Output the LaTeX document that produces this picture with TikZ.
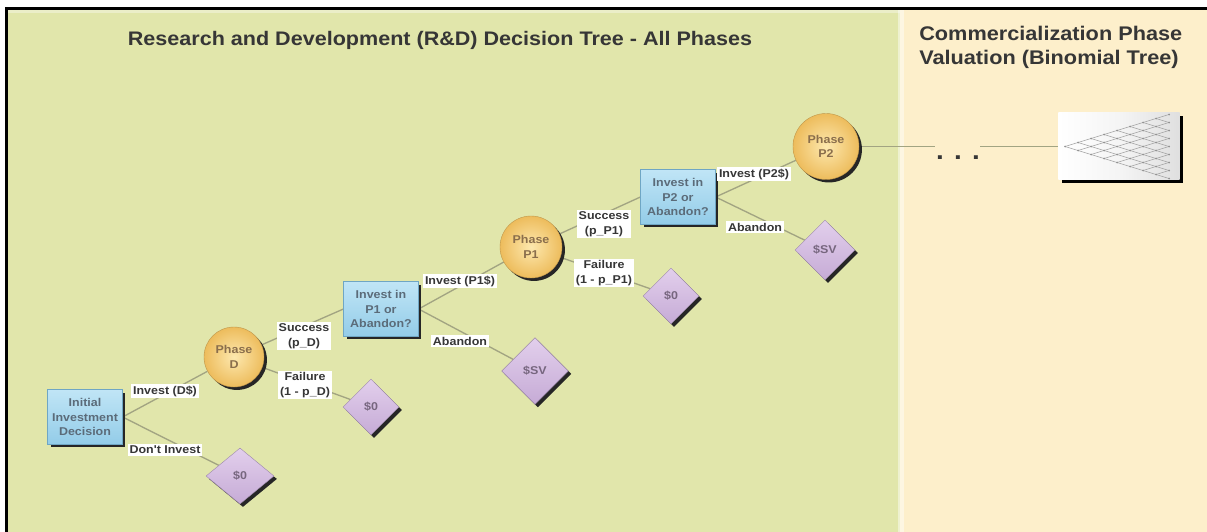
\documentclass[tikz,border=0pt]{standalone}
\usepackage{fontspec}
\setmainfont{Liberation Sans}
\newfontfamily\lbl{Liberation Sans}[FakeStretch=1.1]
\usetikzlibrary{shapes.geometric,shadows}
\definecolor{bgG}{HTML}{E1E6AB}
\definecolor{bgC}{HTML}{FDEFCB}
\definecolor{lineC}{HTML}{A2A482}
\definecolor{boxTop}{HTML}{C0E5F6}
\definecolor{boxBot}{HTML}{93CCE8}
\definecolor{boxDraw}{HTML}{6FA6C4}
\definecolor{circIn}{HTML}{FDE8AE}
\definecolor{circOut}{HTML}{EDBC5C}
\definecolor{diaTop}{HTML}{E2CFEC}
\definecolor{diaBot}{HTML}{C6ABD6}
\definecolor{txtG}{HTML}{363636}
\definecolor{boxTxt}{HTML}{5B6B79}
\definecolor{circTxt}{HTML}{8A6E4C}
\definecolor{diaTxt}{HTML}{76667E}
\pgfdeclarelayer{bg}
\pgfdeclarelayer{bgbg}
\pgfsetlayers{bgbg,bg,main}
\tikzset{
  smallfont/.style={font=\lbl\bfseries\fontsize{8.5}{10.9}\selectfont},
  dshadow/.style={general shadow={fill=black!85, shadow xshift=2.2pt, shadow yshift=-2.2pt}},
  decbox/.style={rectangle, smallfont, align=center, text=boxTxt, top color=boxTop, bottom color=boxBot,
    draw=boxDraw, line width=0.4pt, minimum width=56pt, minimum height=41pt, inner sep=1pt, dshadow},
  chance/.style={circle, smallfont, align=center, text=circTxt, inner color=circIn, outer color=circOut,
    draw=circOut!80!black, line width=0.3pt, inner sep=0pt, dshadow},
  leaf/.style={diamond, smallfont, text=diaTxt, top color=diaTop, bottom color=diaBot,
    draw=diaBot!80!black, line width=0.3pt, inner sep=0pt, dshadow},
  lab/.style={smallfont, align=center, text=txtG, fill=white, inner sep=1.3pt},
  conn/.style={draw=lineC, line width=1pt},
  latt/.style={draw=gray!75, line width=0.4pt},
}
\begin{document}
\begin{tikzpicture}[x=0.75pt,y=-0.75pt]
\useasboundingbox (0,0) rectangle (1207,532);
\begin{pgfonlayer}{bgbg}
\fill[white] (0,0) rectangle (1207,532);
\fill[bgG] (6,9) rectangle (900,532);
\fill[bgC] (900,9) rectangle (1207,532);
\fill[white,opacity=0.45] (898,9) rectangle (904,532);
\fill[white,opacity=0.35] (7,10) rectangle (900,12.5);
\fill[black] (5,7.3) rectangle (1207,10);
\fill[black] (5,7.3) rectangle (7.5,532);
\end{pgfonlayer}

% titles
\node[anchor=base, font=\lbl\bfseries\fontsize{14.7}{18}\selectfont, text=txtG, inner sep=0] (title1) at (440,45.5)
  {Research and Development (R\&D) Decision Tree - All Phases};
\node[anchor=west, align=left, font=\lbl\bfseries\fontsize{14.8}{18.5}\selectfont, text=txtG, inner sep=0] (title2) at (919,47.5)
  {Commercialization Phase\\Valuation (Binomial Tree)};

% decision boxes
\node[decbox] (init) at (85,417) {Initial\\Investment\\Decision};
\node[decbox] (p1box) at (381,309) {Invest in\\P1 or\\Abandon?};
\node[decbox] (p2box) at (678,197) {Invest in\\P2 or\\Abandon?};

% chance nodes
\node[chance, minimum size=45pt] (phD) at (234,357) {Phase\\D};
\node[chance, minimum size=46.5pt] (phP1) at (531,247) {Phase\\P1};
\node[chance, minimum size=49.5pt] (phP2) at (826,146.5) {Phase\\P2};

% leaves
\node[leaf, minimum width=51pt, minimum height=42pt] (z1) at (240,476) {\$0};
\node[leaf, minimum width=42pt, minimum height=42pt] (z2) at (371,407) {\$0};
\node[leaf, minimum width=50pt, minimum height=50pt] (sv1) at (535,371) {\$SV};
\node[leaf, minimum width=42pt, minimum height=42pt] (z3) at (671,296) {\$0};
\node[leaf, minimum width=45pt, minimum height=45pt] (sv2) at (825,250) {\$SV};

% binomial box
\node[rectangle, minimum width=91pt, minimum height=50pt, inner sep=0,
  left color=white, right color=gray!25, middle color=white!92!gray,
  general shadow={fill=black, shadow xshift=2.8pt, shadow yshift=-2.8pt}] (binom) at (1119,146) {};
\coordinate (apex) at (1065,146.5);
\coordinate (gapL) at (935,146.5);
\coordinate (gapR) at (980,146.5);
\node[font=\lbl\bfseries\fontsize{19}{19}\selectfont, text=txtG, inner sep=0] (dots) at (958,158) {. . .};

\foreach \i in {0,...,7}{
  \foreach \j in {0,...,\i}{
    \pgfmathsetmacro\xa{1065+13*\i}
    \pgfmathsetmacro\ya{146.5+4*(2*\j-\i)}
    \pgfmathsetmacro\xb{1065+13*(\i+1)}
    \pgfmathsetmacro\yb{146.5+4*(2*\j-\i-1)}
    \pgfmathsetmacro\yc{146.5+4*(2*\j-\i+1)}
    \draw[latt] (\xa,\ya) -- (\xb,\yb);
    \draw[latt] (\xa,\ya) -- (\xb,\yc);
    \fill[gray!85] (\xa,\ya) circle (1);
  }}
\foreach \j in {0,...,8}{
  \fill[gray!85] (1169,{146.5+4*(2*\j-8)}) circle (1);
}

% connectors
\begin{pgfonlayer}{bg}
\draw[conn] (init.east) -- (phD);
\draw[conn] (init.east) -- (z1);
\draw[conn] (phD) -- (p1box.west);
\draw[conn] (phD) -- (z2);
\draw[conn] (p1box.east) -- (phP1);
\draw[conn] (p1box.east) -- (sv1);
\draw[conn] (phP1) -- (p2box.west);
\draw[conn] (phP1) -- (z3);
\draw[conn] (p2box.east) -- (phP2);
\draw[conn] (p2box.east) -- (sv2);
\draw[conn] (phP2.east) -- (gapL);
\draw[conn] (gapR) -- (apex);
\end{pgfonlayer}

% labels
\node[lab] (lInvD) at (165,391) {Invest (D\$)};
\node[lab] (lDont) at (165,450) {Don't Invest};
\node[lab] (lSucD) at (304,336) {Success\\(p\_D)};
\node[lab] (lFaiD) at (305,385) {Failure\\(1 - p\_D)};
\node[lab] (lInvP1) at (460,281) {Invest (P1\$)};
\node[lab] (lAb1) at (460,341) {Abandon};
\node[lab] (lSucP1) at (604,224) {Success\\(p\_P1)};
\node[lab] (lFaiP1) at (604,273) {Failure\\(1 - p\_P1)};
\node[lab] (lInvP2) at (754,174) {Invest (P2\$)};
\node[lab] (lAb2) at (755,227) {Abandon};
\end{tikzpicture}
\end{document}
